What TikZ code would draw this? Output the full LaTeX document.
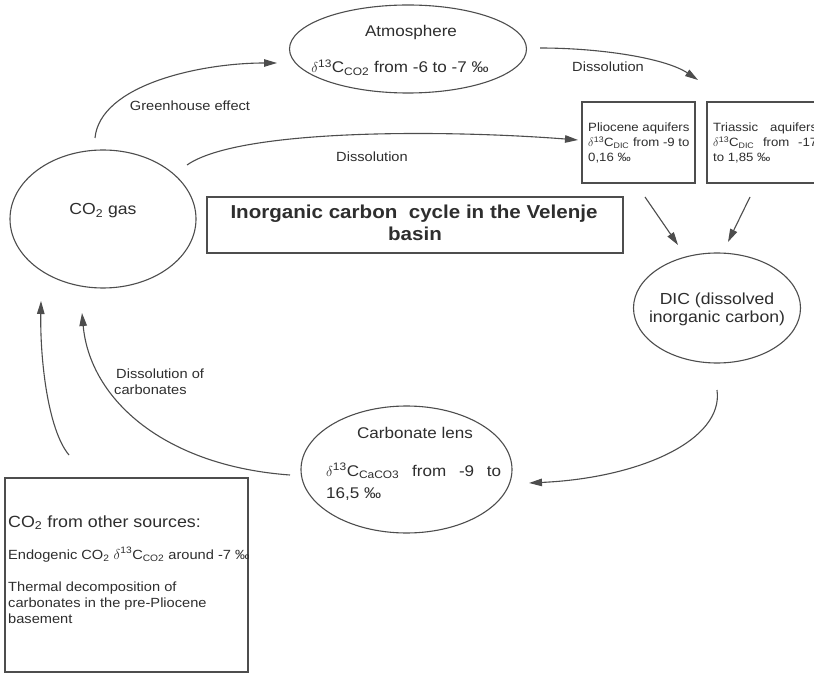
\documentclass[tikz,border=0pt]{standalone}
\usepackage{fontspec}
\setmainfont[FakeStretch=1.1]{Liberation Sans}
\usetikzlibrary{shapes.geometric,arrows.meta}
\definecolor{linec}{HTML}{4D4D4D}
\definecolor{txtc}{HTML}{2E2E2E}
\newcommand\myfs[2]{\fontsize{#1}{#2}\selectfont}
\newcommand\dC[1]{$\delta$\textsuperscript{13}C\textsubscript{#1}}
\tikzset{
  ell/.style={ellipse, draw=linec, line width=1.1pt, inner sep=0pt},
  boxr/.style={rectangle, draw=linec, line width=1.1pt, inner sep=0pt},
  lbl/.style={text=txtc, font=\myfs{13.3}{15}, inner sep=0pt},
  etxt/.style={text=txtc, font=\myfs{15.5}{18}, inner sep=0pt},
  stxt/.style={text=txtc, font=\myfs{12}{15}, inner sep=0pt},
  arr/.style={draw=linec, line width=1.1pt, -{Triangle[length=13pt,width=7.5pt]}},
}
\begin{document}
\begin{tikzpicture}[x=1pt,y=-1pt]
\useasboundingbox (0,0) rectangle (814,676);
\clip (0,0) rectangle (814,676);
\fill[white] (0,0) rectangle (814,676);

% ellipses
\node[ell, minimum width=237pt, minimum height=88pt] (atm) at (408,49) {};
\node[etxt, anchor=base] (atmA) at (411,37) {Atmosphere};
\node[etxt, anchor=base] (atmB) at (400,73) {\dC{CO2} from -6 to -7 ‰};

\node[ell, minimum width=186pt, minimum height=138pt] (co2) at (103,219) {};
\node[etxt, font=\myfs{16}{18}, anchor=base] (co2T) at (103,215) {CO\textsubscript{2} gas};

\node[ell, minimum width=167pt, minimum height=110pt] (dic) at (717,308) {};
\node[etxt, font=\myfs{16}{18}, anchor=base] (dicA) at (717,305) {DIC (dissolved};
\node[etxt, font=\myfs{16}{18}, anchor=base] (dicB) at (717,323) {inorganic carbon)};

\node[ell, minimum width=211pt, minimum height=127pt] (carb) at (406.5,469.5) {};
\node[etxt, anchor=base] (carbA) at (415,438) {Carbonate lens};
\node[etxt, anchor=base west] (carbB) at (326,476) {\makebox[175pt][s]{\dC{CaCO3} from -9 to}};
\node[etxt, anchor=base west] (carbC) at (326,498) {16,5 ‰};

% title box
\node[boxr, minimum width=416pt, minimum height=56pt] (title) at (415,225) {};
\node[text=txtc, font=\myfs{18.7}{22}\bfseries, inner sep=0pt, anchor=base] (titA) at (414,219) {Inorganic carbon\ \ cycle in the Velenje};
\node[text=txtc, font=\myfs{18.7}{22}\bfseries, inner sep=0pt, anchor=base] (titB) at (415,241) {basin};

% aquifer boxes
\node[boxr, minimum width=113pt, minimum height=81pt] (plio) at (638.5,142.5) {};
\node[stxt, anchor=base west] (p1) at (588,132) {Pliocene aquifers};
\node[stxt, anchor=base west] (p2) at (588,147) {\dC{DIC} from -9 to};
\node[stxt, anchor=base west] (p3) at (588,162) {0,16 ‰};

\node[boxr, minimum width=118pt, minimum height=81pt] (tria) at (766,142.5) {};
\node[stxt, anchor=base west] (t1) at (713,132) {\makebox[104pt][s]{Triassic aquifers}};
\node[stxt, anchor=base west] (t2) at (713,147) {\makebox[104pt][s]{\dC{DIC} from -17}};
\node[stxt, anchor=base west] (t3) at (713,162) {to 1,85 ‰};

% other sources box
\node[boxr, minimum width=243pt, minimum height=194pt] (oth) at (126.5,575) {};
\begin{scope}
\clip (5,478) rectangle (248,672);
\node[text=txtc, font=\myfs{16.2}{20}, inner sep=0pt, anchor=base west] (o1) at (8,527) {CO\textsubscript{2} from other sources:};
\node[lbl, font=\myfs{13.3}{16}, anchor=base west] (o2) at (8,559) {Endogenic CO\textsubscript{2} \dC{CO2} around -7 ‰};
\node[lbl, font=\myfs{13.3}{16}, anchor=base west] (o3) at (8,591) {Thermal decomposition of};
\node[lbl, font=\myfs{13.3}{16}, anchor=base west] (o4) at (8,607) {carbonates in the pre-Pliocene};
\node[lbl, font=\myfs{13.3}{16}, anchor=base west] (o5) at (8,623) {basement};
\end{scope}

% connector end points
\coordinate (gS) at (95,138);
\coordinate (gE) at (277,63);
\coordinate (d1S) at (540,48);
\coordinate (d1E) at (698,80);
\coordinate (d2S) at (187,165);
\coordinate (d2E) at (578,140);
\coordinate (pS) at (645,197);
\coordinate (pE) at (678,245);
\coordinate (tS) at (750,197);
\coordinate (tE) at (728,242);
\coordinate (cS) at (717,390);
\coordinate (cE) at (529,483);
\coordinate (dcS) at (290,475);
\coordinate (dcE) at (82,313);
\coordinate (oS) at (69,455);
\coordinate (oE) at (41,301);

% connectors
\draw[arr] (gS) .. controls (100,85) and (200,63) .. (gE);
\draw[arr] (d1S) .. controls (600,48) and (665,58) .. (d1E);
\draw[arr] (d2S) .. controls (240,128) and (450,130) .. (d2E);
\draw[arr] (pS) -- (pE);
\draw[arr] (tS) -- (tE);
\draw[arr] (cS) .. controls (724,440) and (640,478) .. (cE);
\draw[arr] (dcS) .. controls (165,466) and (90,400) .. (dcE);
\draw[arr] (oS) .. controls (48,430) and (40,360) .. (oE);

% labels
\node[lbl, anchor=base] (lg) at (190,111) {Greenhouse effect};
\node[lbl, anchor=base] (ld1) at (608,72) {Dissolution};
\node[lbl, anchor=base] (ld2) at (372,162) {Dissolution};
\node[lbl, anchor=base west] (ldc1) at (116,378) {Dissolution of};
\node[lbl, anchor=base west] (ldc2) at (114,394) {carbonates};
\end{tikzpicture}
\end{document}
